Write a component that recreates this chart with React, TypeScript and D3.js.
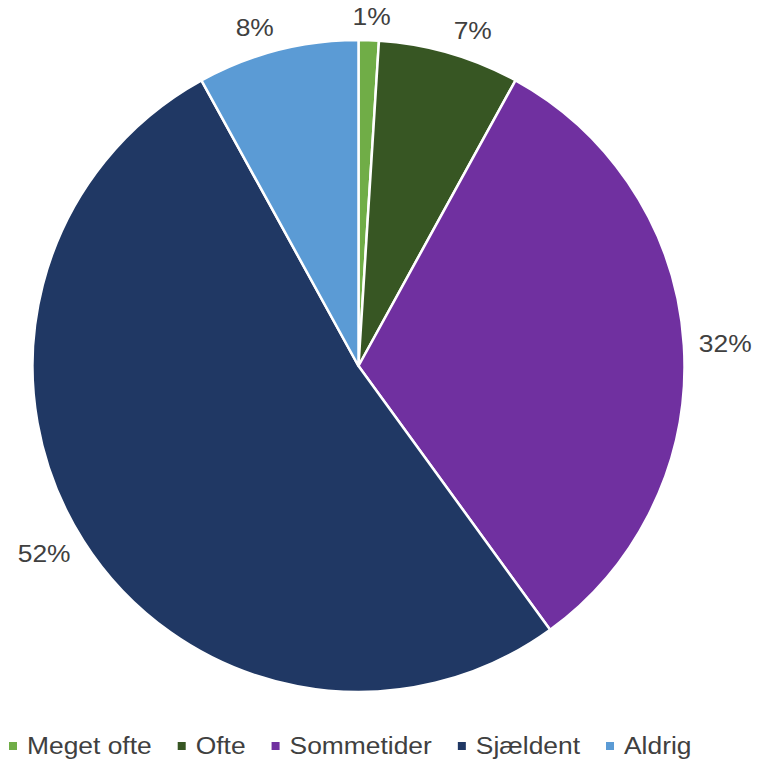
import React, { useEffect, useRef } from "react";
import * as d3 from "d3";

const categories = ["Meget ofte", "Ofte", "Sommetider", "Sjældent", "Aldrig"];
const values = [1, 7, 32, 52, 8];
const labels = ["1%", "7%", "32%", "52%", "8%"];
const colors = ["#70AD47", "#375623", "#7030A0", "#203864", "#5B9BD5"];

const W = 758;
const H = 765;
const CX = 358.5;
const CY = 366;
const R = 326;
const FONT = "'Liberation Sans', Arial, sans-serif";
const TEXT_COLOR = "#404040";
const FS = 24;
const SX = 1.1;

export default function App() {
  const ref = useRef<SVGSVGElement>(null);
  useEffect(() => {
    const svg = d3.select(ref.current);
    svg.selectAll("*").remove();
    const data = categories.map((c, i) => ({ c, v: values[i], l: labels[i], col: colors[i] }));
    const pie = d3.pie<any>().value((d) => d.v).sort(null).startAngle(0).endAngle(2 * Math.PI);
    const arcs = pie(data);
    const arc = d3.arc<any>().innerRadius(0).outerRadius(R);
    const g = svg.append("g").attr("transform", `translate(${CX},${CY})`);
    g.selectAll("path")
      .data(arcs)
      .join("path")
      .attr("d", arc as any)
      .attr("fill", (d: any) => d.data.col)
      .attr("stroke", "#fff")
      .attr("stroke-width", 2.5)
      .attr("stroke-linejoin", "round");

    // labels (outside end)
    const clamp = (v: number) => Math.max(-1, Math.min(1, v));
    arcs.forEach((a: any) => {
      const mid = (a.startAngle + a.endAngle) / 2;
      const outer = g.append("g");
      const t = outer
        .append("text")
        .attr("font-family", FONT)
        .attr("font-size", FS)
        .attr("fill", TEXT_COLOR)
        .attr("text-anchor", "middle")
        .attr("dy", "0.35em")
        .attr("transform", `scale(${SX},1)`)
        .text(a.data.l);
      const bb = (t.node() as SVGTextElement).getBBox();
      const w = bb.width * SX;
      const h = 17;
      const s = Math.sin(mid);
      const c = -Math.cos(mid);
      const D = R + 15;
      const x = D * s + clamp(4 * s) * (w / 2);
      const y = D * c + c * (h / 2);
      outer.attr("transform", `translate(${x},${y})`);
    });

    // legend
    const lg = svg.append("g");
    let x = 9;
    const ly = 746;
    data.forEach((d) => {
      lg.append("rect")
        .attr("x", x)
        .attr("y", ly - 4)
        .attr("width", 8)
        .attr("height", 8)
        .attr("fill", d.col);
      const tg = lg.append("g").attr("transform", `translate(${x + 18},${ly})`);
      const t = tg
        .append("text")
        .attr("font-family", FONT)
        .attr("font-size", FS)
        .attr("fill", TEXT_COLOR)
        .attr("dy", "0.35em")
        .attr("transform", `scale(${SX},1)`)
        .text(d.c);
      const w = (t.node() as SVGTextElement).getBBox().width * SX;
      x = x + 18 + w + 26;
    });
  }, []);
  return (
    <svg
      ref={ref}
      width={W}
      height={H}
      style={{ position: "absolute", left: 0, top: 0, display: "block", background: "#fff" }}
    />
  );
}
